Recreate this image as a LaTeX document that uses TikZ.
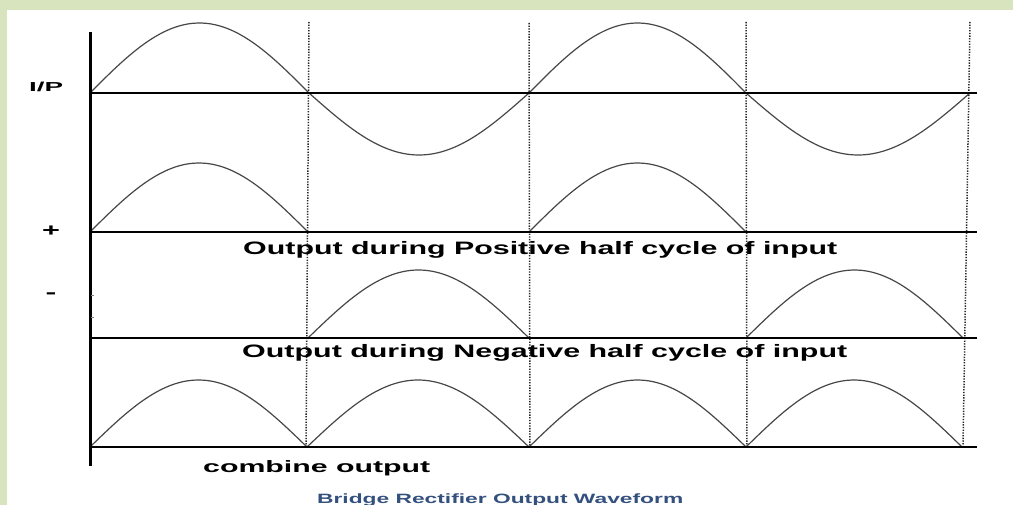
\documentclass[tikz,border=0pt]{standalone}
\usepackage{fontspec}
\setmainfont{Liberation Sans}
\usepackage{graphicx}
\definecolor{bggreen}{HTML}{D8E4BE}
\definecolor{wavegray}{HTML}{474747}
\definecolor{capblue}{HTML}{34507E}
\newcommand\hump[4]{\draw[wavestyle] plot[domain=#1:#2, samples=50, smooth] (\x, {#3 - #4*sin((180/(#2-#1))*(\x-#1))});}
\begin{document}
\begin{tikzpicture}[x=1pt,y=-1pt,
  axisline/.style={line width=3pt, black},
  baseln/.style={line width=2pt, black},
  wavestyle/.style={line width=1.2pt, draw=wavegray, line join=round},
  dotline/.style={line width=1.5pt, black!85, dash pattern=on 1.3pt off 1.4pt},
  lbl/.style={inner sep=0pt, font=\bfseries},
]
\fill[bggreen] (0,0) rectangle (1013,505);
\fill[white] (7,10) rectangle (1013,505);
\useasboundingbox (0,0) rectangle (1013,505);

% coordinates
\coordinate (axt) at (90,32);
\coordinate (axb) at (90,466);
\coordinate (r1a) at (90,93);  \coordinate (r1b) at (977,93);
\coordinate (r2a) at (90,232); \coordinate (r2b) at (977,232);
\coordinate (r3a) at (90,338); \coordinate (r3b) at (977,338);
\coordinate (r4a) at (90,447); \coordinate (r4b) at (977,447);
\coordinate (d1t) at (309,22); \coordinate (d1b) at (306,447);
\coordinate (d2t) at (529,23); \coordinate (d2b) at (530,447);
\coordinate (d3t) at (746,22); \coordinate (d3b) at (747,447);
\coordinate (d4t) at (970,22); \coordinate (d4b) at (963,447);

% dotted guides
\draw[dotline] (d1t) -- (d1b);
\draw[dotline] (d2t) -- (d2b);
\draw[dotline] (d3t) -- (d3b);
\draw[dotline] (d4t) -- (d4b);

% waves
\hump{90}{309}{93}{70}
\hump{309}{529}{93}{-62}
\hump{529}{746}{93}{70}
\hump{746}{970}{93}{-62}

\hump{90}{308}{232}{69}
\hump{529}{746}{232}{69}

\hump{308}{529}{338}{68}
\hump{746}{963}{338}{68}

\hump{90}{307}{447}{67}
\hump{307}{529}{447}{67}
\hump{529}{746}{447}{67}
\hump{746}{962}{447}{67}

% baselines and axis
\draw[baseln] (r1a) -- (r1b);
\draw[baseln] (r2a) -- (r2b);
\draw[baseln] (r3a) -- (r3b);
\draw[baseln] (r4a) -- (r4b);
\draw[axisline] (axt) -- (axb);
\draw[gray, line width=0.6pt] (91,295) -- (94,295);
\draw[gray, line width=0.6pt] (91,317) -- (94,317);

% labels
\node[lbl, anchor=base west] (ip) at (29,92) {\resizebox{34pt}{\height}{\fontsize{13}{13}\selectfont I/P}};
\node[lbl, anchor=center] (plus) at (51,231) {\scalebox{1.7}[1]{\fontsize{18}{18}\selectfont +}};
\node[lbl, anchor=center] (minus) at (51,296) {\scalebox{1.8}[1]{\fontsize{18}{18}\selectfont -}};
\node[lbl, anchor=base west] (pos) at (243,254.5) {\resizebox{594pt}{\height}{\fontsize{18}{18}\selectfont Output during Positive half cycle of input}};
\node[lbl, anchor=base west] (neg) at (242,358) {\resizebox{605pt}{\height}{\fontsize{18}{18}\selectfont Output during Negative half cycle of input}};
\node[lbl, anchor=base west] (comb) at (203,472) {\resizebox{227pt}{\height}{\fontsize{16.5}{17}\selectfont combine output}};
\node[lbl, anchor=base west, text=capblue] (cap) at (317,503) {\resizebox{366pt}{\height}{\fontsize{13.5}{14}\selectfont Bridge Rectifier Output Waveform}};
\end{tikzpicture}
\end{document}
